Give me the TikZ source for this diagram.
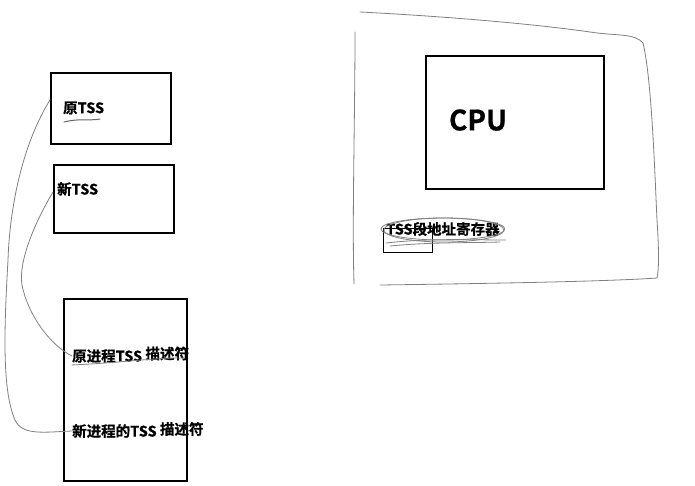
\documentclass[tikz,border=0pt]{standalone}
\usepackage{fontspec}
\setmainfont{Noto Sans CJK SC}[BoldFont={* Bold}]
\newfontfamily\cjkb{Noto Sans CJK SC Bold}[FakeBold=0.8]
\begin{document}
\begin{tikzpicture}[x=1pt,y=-1pt,
  box/.style={draw=black,line width=1.6pt,inner sep=0pt,anchor=north west},
  hand/.style={draw=black!50,line width=0.8pt,line cap=round,line join=round},
  lbl/.style={font=\cjkb\fontsize{14.5}{14.5}\selectfont,inner sep=0pt,anchor=west}]
\useasboundingbox[fill=white] (0,0) rectangle (695,485);
% boxes
\node[box,minimum width=120pt,minimum height=71pt] (oldbox) at (50,72) {};
\node[box,minimum width=120pt,minimum height=68pt] (newbox) at (53,164) {};
\node[box,minimum width=123pt,minimum height=182pt] (gdt) at (63,298) {};
\node[box,minimum width=178pt,minimum height=133pt] (cpu) at (425,55) {};
\node[box,minimum width=49pt,minimum height=24pt,line width=1.2pt] (tr) at (383,228) {};
% texts
\node[lbl] (toldt) at (63,108) {原TSS};
\node[lbl] (tnewt) at (57,189) {新TSS};
\node[lbl] (dold) at (72,356) {原进程TSS};
\node[lbl] (doldb) at (dold.east) [xshift=3pt,yshift=2.5pt] {描述符};
\node[lbl] (dnew) at (72,431) {新进程的TSS};
\node[lbl] (dnewb) at (dnew.east) [xshift=3pt,yshift=2pt] {描述符};
\node[font=\cjkb\fontsize{28}{28}\selectfont,inner sep=0pt] (cputxt) at (478,120) {CPU};
\node[lbl] (trtxt) at (386,229) {TSS段地址寄存器};
% outer freehand frame
\draw[hand] (360,12) .. controls (420,15) and (520,22) .. (590,32)
  .. controls (615,36) and (635,33) .. (643,43)
  .. controls (652,80) and (655,180) .. (657,220)
  .. controls (659,250) and (659,270) .. (657,278)
  .. controls (600,282) and (450,284) .. (380,285);
\draw[hand] (355,32) .. controls (355,120) and (352,220) .. (354,284);
% connectors
\coordinate (a1) at (50,100);
\coordinate (b1) at (53,192);
\draw[hand] (a1) .. controls (25,140) and (10,200) .. (8,260)
  .. controls (4,330) and (2,390) .. (15,420)
  .. controls (22,436) and (45,432) .. (dnew.west);
\draw[hand] (b1) .. controls (35,222) and (18,262) .. (22,285)
  .. controls (28,315) and (50,345) .. (dold.west);
% scribbles
\draw[hand,draw=black!60,line width=1pt] (64,122) .. controls (80,118) and (90,121) .. (100,119);
\draw[hand] (dold.south west) ++(0,2) .. controls (120,363) and (160,357) .. (185,358);
\draw[hand] (trtxt.center) ellipse [x radius=62, y radius=11];
\draw[hand] (trtxt.center) ++(1,1) ellipse [x radius=60, y radius=12];
\draw[hand] (386,243) .. controls (430,238) and (470,240) .. (506,240);
\draw[hand] (390,246) .. controls (430,242) and (470,243) .. (500,242);
\end{tikzpicture}
\end{document}
